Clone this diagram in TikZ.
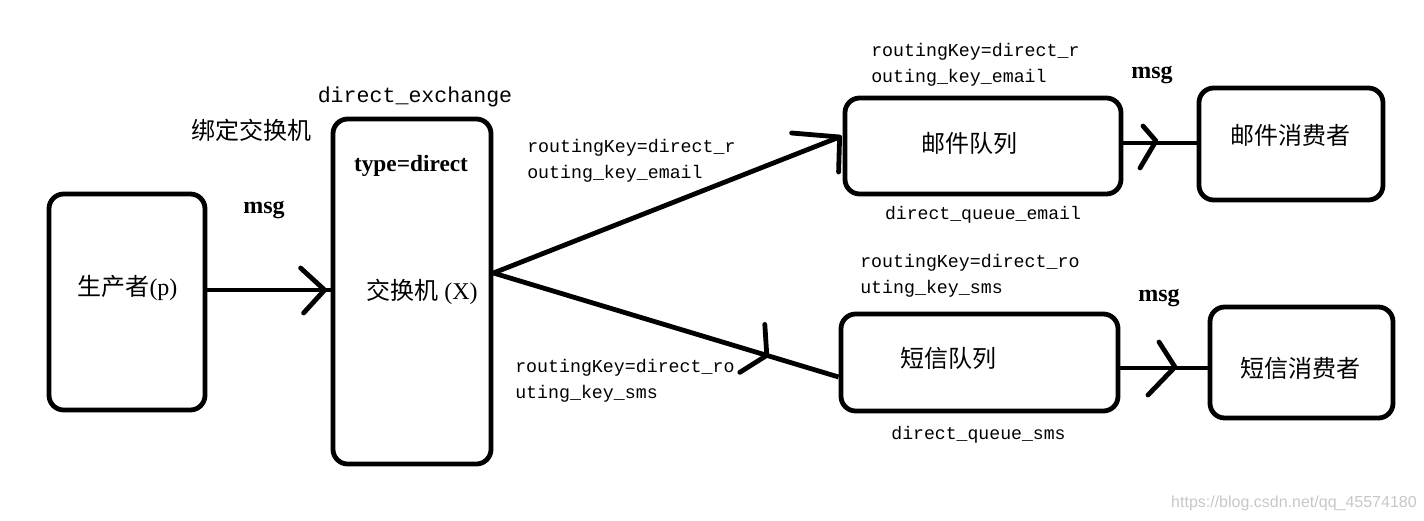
\documentclass[tikz,border=0pt]{standalone}
\usepackage{fontspec}
\setmainfont{Liberation Serif}
\setmonofont{Liberation Mono}
\newfontfamily\cjk{Noto Sans CJK SC}
\newfontfamily\wmfont{Liberation Sans}
\usetikzlibrary{calc}
\begin{document}
\begin{tikzpicture}[x=0.75pt,y=-0.75pt,
  box/.style={draw, line width=3.6pt, rounded corners=11pt, inner sep=0pt},
  conn/.style={line width=3.6pt},
  head/.style={line width=3.6pt, line cap=round, line join=round},
  zh/.style={font=\cjk\fontsize{18pt}{20pt}\selectfont, inner sep=0pt},
  mixed/.style={font=\fontsize{18pt}{20pt}\selectfont, inner sep=0pt},
  keytxt/.style={font=\ttfamily\fontsize{13.7pt}{19.5pt}\selectfont, align=left, anchor=west, inner sep=0pt},
  qname/.style={font=\ttfamily\fontsize{13.6pt}{16pt}\selectfont, inner sep=0pt},
  exname/.style={font=\ttfamily\fontsize{16.2pt}{18pt}\selectfont, inner sep=0pt},
  msgtxt/.style={font=\bfseries\fontsize{18pt}{20pt}\selectfont, inner sep=0pt},
  typetxt/.style={font=\bfseries\fontsize{17.5pt}{20pt}\selectfont, inner sep=0pt},
  wm/.style={font=\wmfont\fontsize{12pt}{14pt}\selectfont, text=black!22, anchor=east, inner sep=0pt}]
\useasboundingbox (0,0) rectangle (1424,521);
% boxes
\node[box, minimum width=117pt, minimum height=162pt] (prod) at (127,302) {};
\node[box, minimum width=118.5pt, minimum height=258.75pt] (ex) at (412,291.5) {};
\node[box, minimum width=207pt, minimum height=72pt] (eq) at (983,146) {};
\node[box, minimum width=138pt, minimum height=84pt] (ec) at (1291,144) {};
\node[box, minimum width=207.75pt, minimum height=72.75pt] (sq) at (979.5,362.5) {};
\node[box, minimum width=137.25pt, minimum height=83.25pt] (sc) at (1301.5,362.5) {};
% helper rows
\coordinate (y290) at (0,290);
\coordinate (y143) at (0,143);
\coordinate (y368) at (0,368);
% producer -> exchange
\draw[conn] (prod.east |- y290) -- (ex.west |- y290);
\coordinate (t1) at ($(ex.west |- y290)+(-6,0)$);
\draw[head] ($(t1)+(-24,-22)$) -- (t1) -- ($(t1)+(-21,23)$);
% exchange -> queues
\coordinate (xo) at ($(ex.east)+(0,-18.5)$);
\coordinate (eend) at ($(eq.west)+(-3,-9)$);
\coordinate (send) at ($(sq.west)+(0,14.5)$);
\draw[conn] (xo) -- (eend);
\draw[head] ($(eend)+(-48,-4)$) -- (eend) -- ($(eend)+(-1,35)$);
\draw[conn] (xo) -- coordinate[pos=0.792] (smid) (send);
\draw[head] ($(smid)+(-2,-31)$) -- (smid) -- ($(smid)+(-27,17)$);
% queues -> consumers
\draw[conn] (eq.east |- y143) -- (ec.west |- y143);
\coordinate (t2) at (1156,141);
\draw[head] ($(t2)+(-13,-15)$) -- (t2) -- ($(t2)+(-16,27)$);
\draw[conn] (sq.east |- y368) -- (sc.west |- y368);
\coordinate (t3) at (1175,367);
\draw[head] ($(t3)+(-16,-25)$) -- (t3) -- ($(t3)+(-27,28)$);
% texts
\node[zh] (lbind) at (251,130) {绑定交换机};
\node[exname] (lde) at (415,97) {direct\_exchange};
\node[typetxt] (ltype) at (411,166) {type=direct};
\node[msgtxt] (lmsg1) at (264,210) {msg};
\node[mixed] (lprod) at (127.5,288) {{\cjk 生产者}(p)};
\node[mixed] (lex) at (422,292) {{\cjk 交换机} (X)};
\node[keytxt] (k1) at (527,161) {routingKey=direct\_r\\outing\_key\_email};
\node[keytxt] (k2) at (515,381) {routingKey=direct\_ro\\uting\_key\_sms};
\node[keytxt] (k3) at (871,64.5) {routingKey=direct\_r\\outing\_key\_email};
\node[keytxt] (k4) at (860,275.5) {routingKey=direct\_ro\\uting\_key\_sms};
\node[zh] (leq) at (969,143) {邮件队列};
\node[zh] (lec) at (1290,135) {邮件消费者};
\node[qname] (leqn) at (983,215) {direct\_queue\_email};
\node[msgtxt] (lmsg2) at (1152,75) {msg};
\node[zh] (lsq) at (948,358) {短信队列};
\node[zh] (lsc) at (1300,368) {短信消费者};
\node[qname] (lsqn) at (978.5,435) {direct\_queue\_sms};
\node[msgtxt] (lmsg3) at (1159,298) {msg};
\node[wm] (lwm) at (1417,503) {https://blog.csdn.net/qq\_45574180};
\end{tikzpicture}
\end{document}
